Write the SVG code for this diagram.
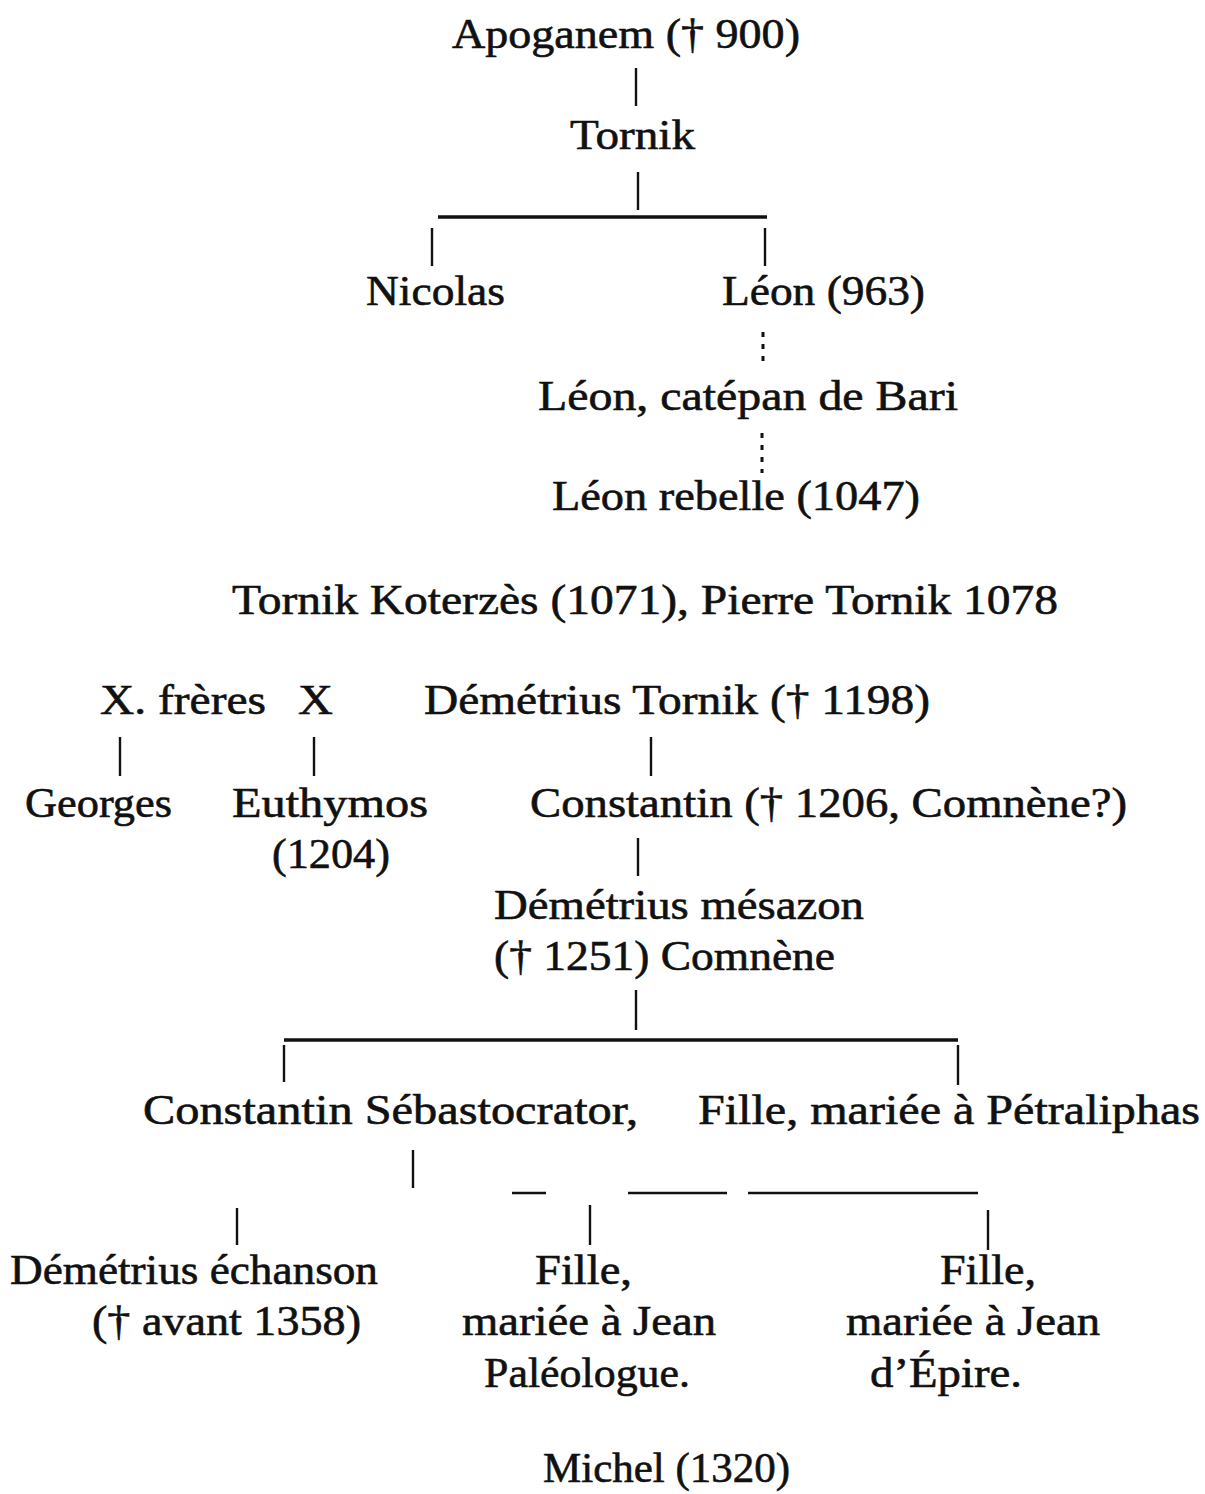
<svg xmlns="http://www.w3.org/2000/svg" width="1205" height="1494" viewBox="0 0 1205 1494">
<style>
text{font-family:"Liberation Serif","DejaVu Serif",serif;font-size:42px;fill:#111;stroke:#111;stroke-width:0.6;}
.l{stroke:#111;stroke-width:2.4;fill:none;}
.h{stroke:#111;stroke-width:3.4;fill:none;}
.d{stroke:#111;stroke-width:3;stroke-dasharray:5 7;fill:none;}
</style>
<rect width="1205" height="1494" fill="#fff"/>
<g id="connectors">
<line class="l" x1="636" y1="68" x2="636" y2="106"/>
<line class="l" x1="638" y1="172" x2="638" y2="210"/>
<line class="h" x1="438" y1="217" x2="767" y2="217"/>
<line class="l" x1="432" y1="228" x2="432" y2="266"/>
<line class="l" x1="765" y1="228" x2="765" y2="266"/>
<line class="d" x1="763" y1="332" x2="763" y2="367"/>
<line class="d" x1="762" y1="433" x2="762" y2="473"/>
<line class="l" x1="120" y1="737" x2="120" y2="776"/>
<line class="l" x1="314" y1="737" x2="314" y2="776"/>
<line class="l" x1="651" y1="737" x2="651" y2="776"/>
<line class="l" x1="638" y1="838" x2="638" y2="876"/>
<line class="l" x1="636" y1="990" x2="636" y2="1030"/>
<line class="h" x1="284" y1="1040" x2="958" y2="1040"/>
<line class="l" x1="284" y1="1045" x2="284" y2="1082"/>
<line class="l" x1="958" y1="1045" x2="958" y2="1085"/>
<line class="l" x1="413" y1="1150" x2="413" y2="1188"/>
<line class="l" x1="512" y1="1193" x2="546" y2="1193"/>
<line class="l" x1="628" y1="1193" x2="727" y2="1193"/>
<line class="l" x1="748" y1="1193" x2="978" y2="1193"/>
<line class="l" x1="237" y1="1208" x2="237" y2="1245"/>
<line class="l" x1="590" y1="1205" x2="590" y2="1245"/>
<line class="l" x1="988" y1="1210" x2="988" y2="1250"/>
</g>
<g id="apoganem"><text x="452" y="48" textLength="348" lengthAdjust="spacingAndGlyphs">Apoganem († 900)</text></g>
<g id="tornik"><text x="570" y="149" textLength="125" lengthAdjust="spacingAndGlyphs">Tornik</text></g>
<g id="nicolas"><text x="366" y="305" textLength="139" lengthAdjust="spacingAndGlyphs">Nicolas</text></g>
<g id="leon963"><text x="722" y="305" textLength="203" lengthAdjust="spacingAndGlyphs">Léon (963)</text></g>
<g id="leon-catepan"><text x="538" y="410" textLength="420" lengthAdjust="spacingAndGlyphs">Léon, catépan de Bari</text></g>
<g id="leon-rebelle"><text x="552" y="510" textLength="368" lengthAdjust="spacingAndGlyphs">Léon rebelle (1047)</text></g>
<g id="koterzes"><text x="232" y="614" textLength="826" lengthAdjust="spacingAndGlyphs">Tornik Koterzès (1071), Pierre Tornik 1078</text></g>
<g id="freres"><text x="100" y="714" textLength="166" lengthAdjust="spacingAndGlyphs">X. frères</text></g>
<g id="x"><text x="298" y="714" textLength="35" lengthAdjust="spacingAndGlyphs">X</text></g>
<g id="demetrius-tornik"><text x="424" y="714" textLength="506" lengthAdjust="spacingAndGlyphs">Démétrius Tornik († 1198)</text></g>
<g id="georges"><text x="25" y="817" textLength="147" lengthAdjust="spacingAndGlyphs">Georges</text></g>
<g id="euthymos"><text x="232" y="817" textLength="196" lengthAdjust="spacingAndGlyphs">Euthymos</text><text x="272" y="868" textLength="118" lengthAdjust="spacingAndGlyphs">(1204)</text></g>
<g id="constantin1206"><text x="530" y="817" textLength="597" lengthAdjust="spacingAndGlyphs">Constantin († 1206, Comnène?)</text></g>
<g id="demetrius-mesazon"><text x="494" y="919" textLength="370" lengthAdjust="spacingAndGlyphs">Démétrius mésazon</text><text x="494" y="970" textLength="341" lengthAdjust="spacingAndGlyphs">(† 1251) Comnène</text></g>
<g id="constantin-sebastocrator"><text x="143" y="1124" textLength="495" lengthAdjust="spacingAndGlyphs">Constantin Sébastocrator,</text></g>
<g id="fille-petraliphas"><text x="698" y="1124" textLength="502" lengthAdjust="spacingAndGlyphs">Fille, mariée à Pétraliphas</text></g>
<g id="demetrius-echanson"><text x="10" y="1284" textLength="368" lengthAdjust="spacingAndGlyphs">Démétrius échanson</text><text x="92" y="1335" textLength="269" lengthAdjust="spacingAndGlyphs">(† avant 1358)</text></g>
<g id="fille-paleologue"><text x="535" y="1284" textLength="97" lengthAdjust="spacingAndGlyphs">Fille,</text><text x="462" y="1335" textLength="254" lengthAdjust="spacingAndGlyphs">mariée à Jean</text><text x="484" y="1387" textLength="206" lengthAdjust="spacingAndGlyphs">Paléologue.</text></g>
<g id="fille-epire"><text x="940" y="1284" textLength="96" lengthAdjust="spacingAndGlyphs">Fille,</text><text x="846" y="1335" textLength="254" lengthAdjust="spacingAndGlyphs">mariée à Jean</text><text x="870" y="1387" textLength="152" lengthAdjust="spacingAndGlyphs">d’Épire.</text></g>
<g id="michel"><text x="543" y="1482" textLength="247" lengthAdjust="spacingAndGlyphs">Michel (1320)</text></g>
</svg>
